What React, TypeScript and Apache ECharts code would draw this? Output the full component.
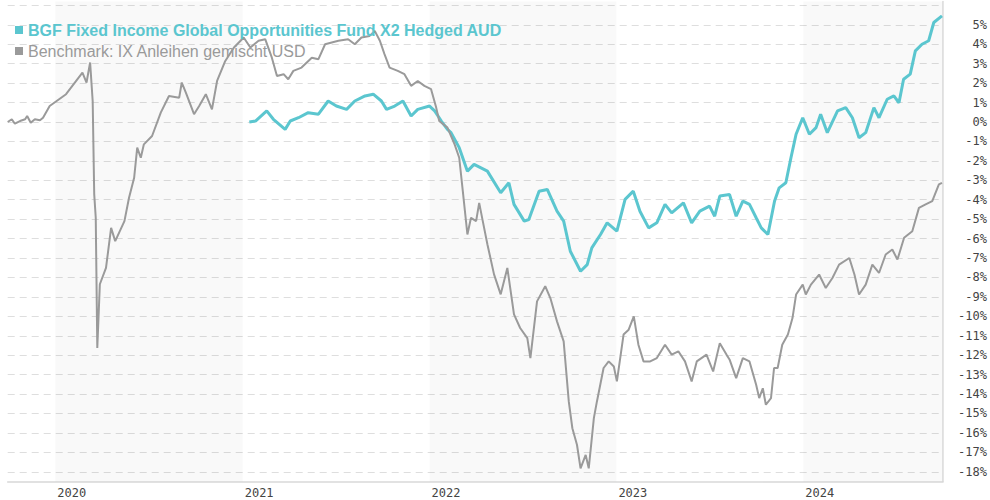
import { useEffect, useRef } from "react";
import * as echarts from "echarts";

const fundName = "BGF Fixed Income Global Opportunities Fund X2 Hedged AUD";
const benchName = "Benchmark: IX Anleihen gemischt USD";

const fundDates = [
  "2021-01-14", "2021-01-26", "2021-02-17", "2021-03-02", "2021-03-25", "2021-04-04", "2021-04-20",
  "2021-05-09", "2021-05-29", "2021-06-17", "2021-07-03", "2021-07-23", "2021-08-08", "2021-08-28",
  "2021-09-13", "2021-09-29", "2021-10-09", "2021-10-25", "2021-11-10", "2021-11-26", "2021-12-09",
  "2022-01-01", "2022-01-11", "2022-01-24", "2022-02-05", "2022-02-12", "2022-02-28", "2022-03-16",
  "2022-03-29", "2022-04-24", "2022-05-20", "2022-06-05", "2022-06-15", "2022-07-05", "2022-07-14",
  "2022-08-03", "2022-08-19", "2022-09-07", "2022-09-20", "2022-10-03", "2022-10-23", "2022-11-05",
  "2022-11-14", "2022-12-01", "2022-12-14", "2023-01-02", "2023-01-18", "2023-02-03", "2023-02-16",
  "2023-03-05", "2023-03-21", "2023-04-06", "2023-04-19", "2023-05-12", "2023-05-28", "2023-06-13",
  "2023-07-02", "2023-07-12", "2023-07-22", "2023-08-10", "2023-08-23", "2023-09-05", "2023-09-18",
  "2023-10-01", "2023-10-11", "2023-10-24", "2023-11-06", "2023-11-15", "2023-11-28", "2023-12-08",
  "2023-12-18", "2023-12-31", "2024-01-13", "2024-01-26", "2024-02-04", "2024-02-17", "2024-03-08",
  "2024-03-24", "2024-04-06", "2024-04-19", "2024-05-02", "2024-05-18", "2024-05-28", "2024-06-13",
  "2024-06-26", "2024-07-06", "2024-07-15", "2024-07-28", "2024-08-07", "2024-08-20", "2024-09-02",
  "2024-09-12", "2024-09-28",
];
const fundValues = [
  0.0, 0.05, 0.57, 0.14, -0.38, 0.05, 0.22,
  0.48, 0.4, 1.08, 0.82, 0.65, 1.08, 1.34,
  1.43, 1.08, 0.65, 0.82, 1.08, 0.31, 0.65,
  0.82, 0.57, 0.05, -0.38, -0.55, -1.32, -2.53,
  -2.18, -2.53, -3.64, -3.13, -4.24, -5.1, -5.02,
  -3.56, -3.47, -4.59, -5.1, -6.65, -7.68, -7.34,
  -6.48, -5.79, -5.19, -5.62, -3.98, -3.56, -4.59,
  -5.45, -5.19, -4.24, -4.68, -4.16, -5.19, -4.59,
  -4.33, -4.85, -3.81, -3.73, -4.85, -4.07, -4.24,
  -4.93, -5.45, -5.79, -4.07, -3.39, -3.13, -1.84,
  -0.63, 0.22, -0.63, -0.29, 0.4, -0.55, 0.57,
  0.74, 0.22, -0.81, -0.55, 0.74, 0.22, 1.17,
  1.34, 0.99, 2.2, 2.46, 3.66, 4.0, 4.18,
  5.12, 5.46,
];

const benchDates = [
  "2019-09-30", "2019-10-08", "2019-10-14", "2019-10-24", "2019-11-03", "2019-11-07", "2019-11-14",
  "2019-11-22", "2019-12-02", "2019-12-08", "2019-12-21", "2020-01-22", "2020-02-23", "2020-03-02",
  "2020-03-09", "2020-03-14", "2020-03-17", "2020-03-20", "2020-03-23", "2020-03-28", "2020-04-09",
  "2020-04-19", "2020-04-27", "2020-05-15", "2020-05-24", "2020-06-03", "2020-06-09", "2020-06-16",
  "2020-06-22", "2020-07-08", "2020-07-25", "2020-08-10", "2020-08-30", "2020-09-04", "2020-09-12",
  "2020-09-28", "2020-10-08", "2020-10-21", "2020-11-02", "2020-11-12", "2020-11-28", "2020-12-15",
  "2021-01-03", "2021-01-16", "2021-02-01", "2021-02-14", "2021-02-27", "2021-03-09", "2021-03-22",
  "2021-03-31", "2021-04-10", "2021-04-26", "2021-05-16", "2021-05-29", "2021-06-11", "2021-06-24",
  "2021-07-07", "2021-07-26", "2021-08-08", "2021-08-21", "2021-09-06", "2021-09-16", "2021-09-26",
  "2021-10-05", "2021-10-15", "2021-10-31", "2021-11-13", "2021-11-26", "2021-12-09", "2021-12-22",
  "2022-01-04", "2022-01-14", "2022-01-20", "2022-02-05", "2022-02-19", "2022-02-28", "2022-03-07",
  "2022-03-16", "2022-03-23", "2022-04-02", "2022-04-08", "2022-04-15", "2022-04-24", "2022-05-07",
  "2022-05-20", "2022-06-02", "2022-06-15", "2022-06-27", "2022-07-11", "2022-07-17", "2022-07-30",
  "2022-08-15", "2022-08-25", "2022-09-07", "2022-09-20", "2022-09-30", "2022-10-07", "2022-10-16",
  "2022-10-23", "2022-11-02", "2022-11-08", "2022-11-18", "2022-11-24", "2022-12-07", "2022-12-17",
  "2022-12-27", "2023-01-02", "2023-01-15", "2023-01-25", "2023-02-04", "2023-02-13", "2023-02-23",
  "2023-03-08", "2023-03-21", "2023-04-06", "2023-04-19", "2023-05-02", "2023-05-15", "2023-05-28",
  "2023-06-07", "2023-06-26", "2023-07-09", "2023-07-22", "2023-08-04", "2023-08-10", "2023-08-23",
  "2023-09-05", "2023-09-18", "2023-10-01", "2023-10-07", "2023-10-14", "2023-10-20", "2023-10-30",
  "2023-11-05", "2023-11-12", "2023-11-21", "2023-12-02", "2023-12-11", "2023-12-18", "2023-12-31",
  "2024-01-06", "2024-01-16", "2024-02-01", "2024-02-14", "2024-02-27", "2024-03-11", "2024-03-31",
  "2024-04-10", "2024-04-19", "2024-05-02", "2024-05-15", "2024-05-28", "2024-06-10", "2024-06-23",
  "2024-07-03", "2024-07-16", "2024-08-01", "2024-08-14", "2024-08-27", "2024-09-09", "2024-09-22",
  "2024-09-28",
];
const benchValues = [
  0.0, 0.14, -0.09, 0.05, 0.14, 0.31, -0.04,
  0.14, 0.09, 0.22, 0.82, 1.43, 2.54, 2.03,
  3.06, 1.08, -3.71, -4.93, -11.63, -8.35, -7.51,
  -5.45, -6.13, -5.1, -3.9, -2.87, -1.32, -1.84,
  -1.15, -0.72, 0.48, 1.34, 1.25, 2.03, 1.51,
  0.4, 0.82, 1.43, 0.65, 2.11, 3.14, 3.83,
  4.35, 3.83, 4.18, 4.26, 3.31, 2.37, 2.46,
  2.2, 2.63, 2.8, 3.31, 3.23, 4.0, 4.09,
  4.18, 4.26, 4.0, 4.35, 4.43, 4.69, 4.18,
  3.49, 2.8, 2.63, 2.46, 1.86, 2.11, 1.86,
  1.69, 0.74, 0.05, -0.29, -1.15, -1.84, -3.56,
  -5.79, -4.93, -5.1, -4.16, -5.1, -6.29, -7.84,
  -8.87, -7.51, -9.9, -10.6, -11.12, -12.15, -9.23,
  -8.45, -9.06, -10.26, -11.29, -14.38, -15.76, -16.61,
  -17.82, -17.13, -17.82, -15.24, -14.38, -12.66, -12.32,
  -12.58, -13.35, -10.94, -10.69, -10.0, -11.46, -12.32,
  -12.32, -12.15, -11.46, -11.97, -11.8, -12.32, -13.35,
  -12.32, -11.97, -12.84, -11.38, -11.97, -12.22, -13.18,
  -12.15, -12.32, -13.52, -14.21, -13.7, -14.55, -14.21,
  -12.66, -12.66, -11.46, -10.94, -10.09, -8.88, -8.37,
  -8.88, -8.37, -7.85, -8.54, -8.03, -7.34, -7.0,
  -7.85, -8.88, -8.37, -7.34, -7.77, -6.82, -6.56,
  -7.08, -5.96, -5.62, -4.42, -4.24, -4.07, -3.21,
  -3.13,
];

const shadedStarts = ["2020-01-01", "2022-01-01", "2024-01-01"];
const shadedEnds = ["2021-01-01", "2023-01-01", "2024-09-30"];

const axisStart = "2019-09-30";
const axisEnd = "2024-09-30";

const TEAL = "#5bc6cf";
const GRAY = "#9a9a9a";

export default function App() {
  const ref = useRef<HTMLDivElement>(null);

  useEffect(() => {
    if (!ref.current) return;
    const chart = echarts.init(ref.current, undefined, { renderer: "svg" });
    const isInt = (v: number) => Math.abs(v - Math.round(v)) < 1e-6;

    chart.setOption({
      animation: false,
      textStyle: { fontFamily: "Liberation Sans, Arial, sans-serif" },
      grid: { left: 7.7, right: 42.6, top: 1.5, bottom: 18.5, containLabel: false },
      legend: {
        orient: "vertical",
        left: 15,
        top: 22,
        padding: 0,
        itemGap: 5,
        icon: "rect",
        itemWidth: 8,
        itemHeight: 8,
        selectedMode: false,
        data: [
          {
            name: fundName,
            textStyle: { color: TEAL, fontWeight: "bold", fontSize: 16, lineHeight: 16 },
          },
          {
            name: benchName,
            textStyle: { color: GRAY, fontSize: 16, lineHeight: 16 },
          },
        ],
      },
      xAxis: {
        type: "time",
        min: axisStart,
        max: axisEnd,
        minInterval: 360 * 24 * 3600 * 1000,
        axisLine: { show: true, onZero: false, lineStyle: { color: "#d8d8d8", width: 1.5 } },
        axisTick: { show: false },
        splitLine: { show: false },
        axisLabel: {
          align: "left",
          margin: 5,
          color: "#444",
          fontFamily: "DejaVu Sans Mono, monospace",
          fontSize: 12,
          padding: [0, 0, 0, 2],
          formatter: (val: number) => {
            const d = new Date(val);
            return d.getMonth() === 0 && d.getDate() === 1 ? String(d.getFullYear()) : "";
          },
        },
      },
      yAxis: {
        type: "value",
        position: "right",
        min: -18.5,
        max: 6.2,
        interval: 0.5,
        axisLine: { show: true, lineStyle: { color: "#dcdcdc", width: 1.5 } },
        axisTick: { show: false },
        splitLine: {
          show: true,
          lineStyle: { color: ["rgba(0,0,0,0)", "#dedede"], type: [7, 5], width: 1 },
        },
        axisLabel: {
          align: "right",
          margin: 44,
          color: "#444",
          fontFamily: "DejaVu Sans Mono, monospace",
          fontSize: 12,
          formatter: (v: number) => (isInt(v) && v <= 5.01 ? `${Math.round(v)}%` : ""),
        },
      },
      series: [
        {
          name: fundName,
          type: "line",
          showSymbol: false,
          color: TEAL,
          lineStyle: { color: TEAL, width: 3 },
          data: fundDates.map((d, i) => [d, fundValues[i]]),
          markArea: {
            silent: true,
            itemStyle: { color: "rgba(0,0,0,0.024)" },
            data: shadedStarts.map((s, i) => [{ xAxis: s }, { xAxis: shadedEnds[i] }]),
          },
        },
        {
          name: benchName,
          type: "line",
          showSymbol: false,
          color: GRAY,
          lineStyle: { color: GRAY, width: 2 },
          data: benchDates.map((d, i) => [d, benchValues[i]]),
        },
      ],
    });

    return () => chart.dispose();
  }, []);

  return (
    <div
      ref={ref}
      style={{ position: "fixed", left: 0, top: 0, width: 990, height: 500, background: "#fff" }}
    />
  );
}
